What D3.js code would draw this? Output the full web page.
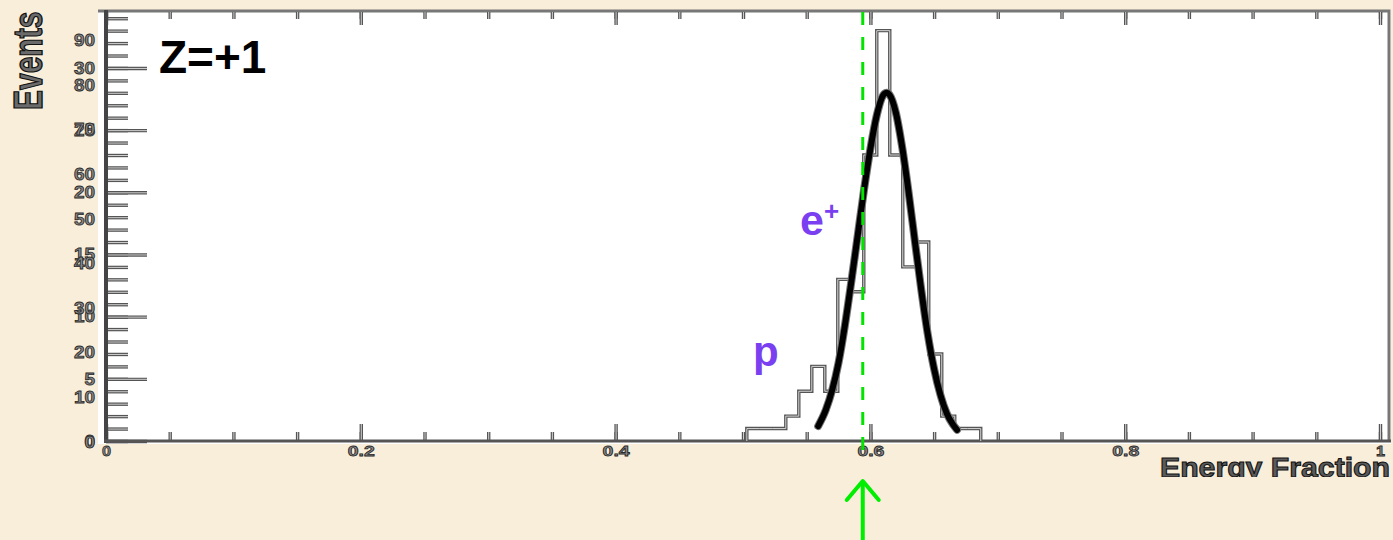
<!DOCTYPE html>
<html>
<head>
<meta charset="utf-8">
<script src="https://cdn.jsdelivr.net/npm/d3@7"></script>
<style>
  body { margin: 0; background: #f9eed9; }
  svg { display: block; font-family: 'Liberation Sans', Arial, sans-serif; }
</style>
</head>
<body>
<svg id="svg" width="1393" height="540"></svg>
<script>
// histogram bins (left edges + last right edge) and counts
const binEdges = [0.503, 0.5132, 0.5234, 0.5336, 0.5438, 0.554, 0.5642, 0.5744, 0.5846,
                  0.5948, 0.605, 0.6152, 0.6254, 0.6356, 0.6458, 0.656, 0.6662, 0.6764, 0.6866];
const binCounts = [1, 1, 1, 2, 4, 6, 4, 13, 12, 23, 33, 23, 14, 16, 7, 2, 1, 1];

// fitted curve, sampled by eye
const fitX = [0.559, 0.565, 0.570, 0.575, 0.580, 0.585, 0.590, 0.595, 0.600, 0.605, 0.610, 0.6128,
              0.615, 0.620, 0.625, 0.630, 0.635, 0.640, 0.645, 0.650, 0.655, 0.660, 0.665, 0.668];
const fitY = [1.2, 2.5, 4.1, 6.3, 9.3, 12.8, 16.5, 20.2, 23.5, 26.2, 27.8, 28.0,
              27.85, 26.4, 23.6, 20.0, 16.0, 12.1, 8.6, 5.8, 3.7, 2.2, 1.3, 0.9];

const cutValue = 0.594;

// tick values
const xMajorTicks = [0, 0.2, 0.4, 0.6, 0.8, 1];
const xMinorTicks = d3.range(0, 21).map(i => i * 0.05);
const yMajorTicks = [0, 5, 10, 15, 20, 25, 30];
const yMinorTicks = d3.range(0, 35);
const yLabelsA = [0, 5, 10, 15, 20, 25, 30];
const yLabelsB = [0, 10, 20, 30, 40, 50, 60, 70, 80, 90];

const svg = d3.select('#svg');
const frame = {left: 106, right: 1380, top: 12, bottom: 441};

const xScale = d3.scaleLinear().domain([0, 1]).range([frame.left, frame.right]);
const yScale = d3.scaleLinear().domain([0, 34.5]).range([frame.bottom, frame.top]);
const yScaleB = d3.scaleLinear().domain([0, 96.3]).range([frame.bottom + 1, frame.top]);

// white plot pad
svg.append('rect')
    .attr('x', 98).attr('y', 10)
    .attr('width', 1293).attr('height', 434)
    .attr('fill', '#ffffff');

// frame top / right
svg.append('path')
    .attr('d', 'M98,' + (frame.top - 1) + 'H1389V' + frame.bottom)
    .attr('fill', 'none').attr('stroke', '#777').attr('stroke-width', 3);

// draw a set of ticks twice to get the hollow grey look
function ticks(axisFn, transform) {
    [['#555', 3.4], ['#cfcfcf', 1]].forEach(function(s) {
        const g = svg.append('g').attr('transform', transform).call(axisFn);
        g.select('.domain').remove();
        g.selectAll('text').remove();
        g.selectAll('.tick line').attr('stroke', s[0]).attr('stroke-width', s[1]);
    });
}

ticks(d3.axisLeft(yScale).tickValues(yMinorTicks).tickSizeInner(-22).tickSizeOuter(0),
      'translate(' + frame.left + ',0)');
ticks(d3.axisLeft(yScale).tickValues(yMajorTicks).tickSizeInner(-41).tickSizeOuter(0),
      'translate(' + frame.left + ',0)');
ticks(d3.axisBottom(xScale).tickValues(xMinorTicks).tickSizeInner(-9).tickSizeOuter(0),
      'translate(0,' + frame.bottom + ')');
ticks(d3.axisBottom(xScale).tickValues(xMajorTicks).tickSizeInner(-17).tickSizeOuter(0),
      'translate(0,' + frame.bottom + ')');
ticks(d3.axisTop(xScale).tickValues(xMinorTicks).tickSizeInner(-7).tickSizeOuter(0),
      'translate(0,' + frame.top + ')');
ticks(d3.axisTop(xScale).tickValues(xMajorTicks).tickSizeInner(-13).tickSizeOuter(0),
      'translate(0,' + frame.top + ')');

// axis lines
svg.append('line')
    .attr('x1', frame.left).attr('x2', frame.left)
    .attr('y1', frame.top - 2).attr('y2', frame.bottom + 2)
    .attr('stroke', '#444').attr('stroke-width', 4);
svg.append('line')
    .attr('x1', frame.left - 2).attr('x2', 1391)
    .attr('y1', frame.bottom).attr('y2', frame.bottom)
    .attr('stroke', '#555').attr('stroke-width', 3);

// tick labels
function labelStyle(sel, size) {
    sel.attr('font-size', size).attr('font-weight', 'bold')
        .attr('fill', '#8a8a8a').attr('stroke', '#2a2a2a').attr('stroke-width', 0.8);
}

const yLabA = svg.append('g')
    .attr('transform', 'translate(' + frame.left + ',0)')
    .call(d3.axisLeft(yScale).tickValues(yLabelsA).tickSize(0).tickPadding(11));
const yLabB = svg.append('g')
    .attr('transform', 'translate(' + frame.left + ',0)')
    .call(d3.axisLeft(yScaleB).tickValues(yLabelsB).tickSize(0).tickPadding(11));
[yLabA, yLabB].forEach(function(g) {
    g.select('.domain').remove();
    g.selectAll('text')
        .attr('font-family', null)
        .attr('textLength', d => String(d).length * 10.5)
        .attr('lengthAdjust', 'spacingAndGlyphs')
        .call(labelStyle, 16.5);
});

const xLab = svg.append('g')
    .attr('transform', 'translate(0,' + frame.bottom + ')')
    .call(d3.axisBottom(xScale).tickValues(xMajorTicks).tickSize(0).tickPadding(4)
        .tickFormat(d3.format('~g')));
xLab.select('.domain').remove();
xLab.selectAll('text')
    .attr('font-family', null)
    .attr('textLength', d => d3.format('~g')(d).length * 9)
    .attr('lengthAdjust', 'spacingAndGlyphs')
    .call(labelStyle, 15);

// histogram outline
const histPts = [[binEdges[0], 0]];
binCounts.forEach(function(c, i) { histPts.push([binEdges[i], c]); });
histPts.push([binEdges[binEdges.length - 1], binCounts[binCounts.length - 1]]);
histPts.push([binEdges[binEdges.length - 1], 0]);

const histLine = d3.line()
    .x(d => xScale(d[0]))
    .y(d => yScale(d[1]))
    .curve(d3.curveStepAfter);

svg.append('path').datum(histPts)
    .attr('d', histLine)
    .attr('fill', 'none').attr('stroke', '#555').attr('stroke-width', 3.4);
svg.append('path').datum(histPts)
    .attr('d', histLine)
    .attr('fill', 'none').attr('stroke', '#d4d4d4').attr('stroke-width', 1);

// fit curve
const fitPts = fitX.map((x, i) => [x, fitY[i]]);
const fitLine = d3.line()
    .x(d => xScale(d[0]))
    .y(d => yScale(d[1]))
    .curve(d3.curveMonotoneX);
svg.append('path').datum(fitPts)
    .attr('d', fitLine)
    .attr('fill', 'none').attr('stroke', '#777').attr('stroke-width', 8)
    .attr('stroke-linecap', 'round').attr('stroke-linejoin', 'round');
svg.append('path').datum(fitPts)
    .attr('d', fitLine)
    .attr('fill', 'none').attr('stroke', '#000').attr('stroke-width', 6)
    .attr('stroke-linecap', 'round').attr('stroke-linejoin', 'round');

// cut line and arrow
const cutX = xScale(cutValue);
svg.append('line')
    .attr('x1', cutX).attr('x2', cutX)
    .attr('y1', frame.top).attr('y2', 458)
    .attr('stroke', '#00e400').attr('stroke-width', 3)
    .attr('stroke-dasharray', '13 12');
svg.append('line')
    .attr('x1', cutX).attr('x2', cutX)
    .attr('y1', 481).attr('y2', 540)
    .attr('stroke', '#00ee00').attr('stroke-width', 4);
svg.append('path')
    .attr('d', 'M' + (cutX - 16) + ',500L' + cutX + ',481L' + (cutX + 16) + ',500')
    .attr('fill', 'none').attr('stroke', '#00ee00').attr('stroke-width', 4)
    .attr('stroke-linecap', 'round').attr('stroke-linejoin', 'round');

// axis titles
svg.append('text')
    .attr('transform', 'translate(42,110) rotate(-90) scale(1,1.35)')
    .attr('font-size', 30).attr('font-weight', 'bold')
    .attr('fill', '#6a6a6a').attr('stroke', '#111').attr('stroke-width', 1)
    .text('Events');

svg.append('clipPath').attr('id', 'cutBottom')
    .append('rect').attr('x', 0).attr('y', 0).attr('width', 1393).attr('height', 477);
svg.append('text')
    .attr('clip-path', 'url(#cutBottom)')
    .attr('x', 1160).attr('y', 477)
    .attr('textLength', 230).attr('lengthAdjust', 'spacingAndGlyphs')
    .attr('font-size', 27).attr('font-weight', 'bold')
    .attr('fill', '#5a5a5a').attr('stroke', '#111').attr('stroke-width', 1)
    .text('Energy Fraction');

// annotations
svg.append('text')
    .attr('x', 159).attr('y', 73)
    .attr('font-size', 46).attr('font-weight', 'bold').attr('fill', '#000')
    .text('Z=+1');

const ePlus = svg.append('text')
    .attr('x', 800).attr('y', 235)
    .attr('font-size', 43).attr('font-weight', 'bold').attr('fill', '#7a3ff0');
ePlus.append('tspan').text('e');
ePlus.append('tspan').attr('font-size', 26).attr('dy', -15).text('+');

svg.append('text')
    .attr('x', 753).attr('y', 366)
    .attr('font-size', 42).attr('font-weight', 'bold').attr('fill', '#7a3ff0')
    .text('p');
</script>
</body>
</html>
